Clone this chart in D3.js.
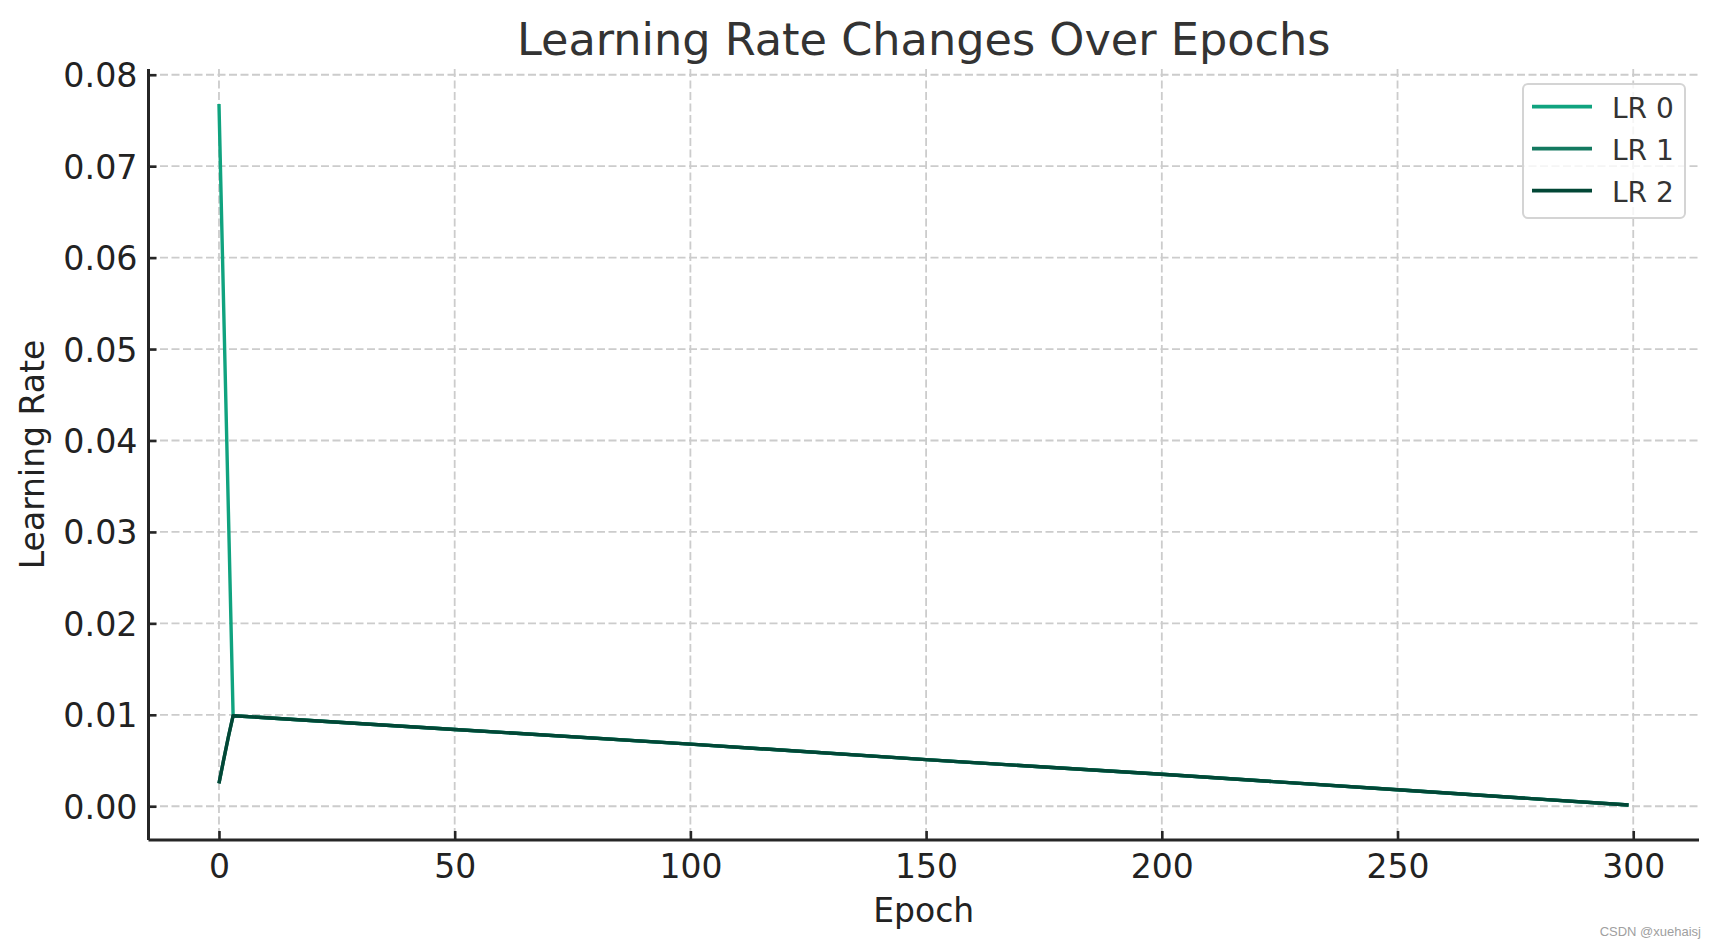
<!DOCTYPE html>
<html>
<head>
<meta charset="utf-8">
<script src="https://cdn.jsdelivr.net/npm/d3@7"></script>
<style>
  html, body { margin: 0; padding: 0; background: #ffffff; }
  svg { display: block; }
</style>
</head>
<body>
<svg id="chart" width="1718" height="947"></svg>
<script>
// ---- data ----
const epochs = [0, 1, 2, 3, 50, 100, 150, 200, 250, 299];
const lr0 = [0.0768, 0.0545, 0.0322, 0.0099, 0.0084, 0.0068, 0.0051, 0.0035, 0.0018, 0.00014];
const lr1 = [0.0025, 0.0051, 0.0076, 0.0099, 0.0084, 0.0068, 0.0051, 0.0035, 0.0018, 0.00014];
const lr2 = [0.0025, 0.0051, 0.0076, 0.0099, 0.0084, 0.0068, 0.0051, 0.0035, 0.0018, 0.00014];
const seriesNames = ["LR 0", "LR 1", "LR 2"];
const seriesColors = ["#10a37f", "#147960", "#024736"];
const xTicks = [0, 50, 100, 150, 200, 250, 300];
const yTicks = [0.00, 0.01, 0.02, 0.03, 0.04, 0.05, 0.06, 0.07, 0.08];
const titleText = "Learning Rate Changes Over Epochs";
const xLabel = "Epoch";
const yLabel = "Learning Rate";
const watermark = "CSDN @xuehaisj";

// ---- layout ----
const L = 148.5, R = 1699, T = 69, B = 840;
const FONT = "'DejaVu Sans', sans-serif";
const svg = d3.select("#chart");

const x = d3.scaleLinear().domain([-14.95, 313.95]).range([L, R]);
const y = d3.scaleLinear().domain([-0.00369, 0.08063]).range([B, T]);

// grid
const grid = svg.append("g");
grid.selectAll("line.gx").data(xTicks).join("line")
  .attr("x1", d => x(d)).attr("x2", d => x(d))
  .attr("y1", T).attr("y2", B)
  .attr("stroke", "#cccccc").attr("stroke-width", 1.8)
  .attr("stroke-dasharray", "8,3.5");
grid.selectAll("line.gy").data(yTicks).join("line")
  .attr("x1", L).attr("x2", R)
  .attr("y1", d => y(d)).attr("y2", d => y(d))
  .attr("stroke", "#cccccc").attr("stroke-width", 1.8)
  .attr("stroke-dasharray", "8,3.5");

// lines
const allSeries = [lr0, lr1, lr2];
const lineGen = d3.line().x((d, i) => x(epochs[i])).y(d => y(d));
svg.append("g").selectAll("path").data(allSeries).join("path")
  .attr("d", d => lineGen(d))
  .attr("fill", "none")
  .attr("stroke", (d, i) => seriesColors[i])
  .attr("stroke-width", 3.4)
  .attr("stroke-linejoin", "round");

// axes
const xAxis = d3.axisBottom(x).tickValues(xTicks).tickSizeInner(-9).tickSizeOuter(0).tickPadding(0).tickFormat(d3.format("d"));
const yAxis = d3.axisLeft(y).tickValues(yTicks).tickSizeInner(-8).tickSizeOuter(0).tickPadding(0).tickFormat(d3.format(".2f"));

const gx = svg.append("g").attr("transform", `translate(0,${B})`).call(xAxis);
gx.select(".domain").attr("stroke", "#262626").attr("stroke-width", 3).attr("d", `M${L},0H${R}`);
gx.selectAll(".tick line").attr("stroke", "#262626").attr("stroke-width", 2.6);
gx.selectAll(".tick text")
  .attr("y", 37.5).attr("dy", null)
  .attr("font-family", FONT).attr("font-size", 33).attr("fill", "#222222");

const gy = svg.append("g").attr("transform", `translate(${L},0)`).call(yAxis);
gy.select(".domain").attr("stroke", "#262626").attr("stroke-width", 3).attr("d", `M0,${T}V${B}`);
gy.selectAll(".tick line").attr("stroke", "#262626").attr("stroke-width", 2.6);
gy.selectAll(".tick text")
  .attr("x", -11).attr("dy", "0.36em")
  .attr("font-family", FONT).attr("font-size", 33.3).attr("fill", "#222222");

// title & labels
svg.append("text").attr("x", (L + R) / 2).attr("y", 55)
  .attr("text-anchor", "middle").attr("font-family", FONT).attr("font-size", 44.6)
  .attr("fill", "#333333").text(titleText);
svg.append("text").attr("x", (L + R) / 2).attr("y", 921.5)
  .attr("text-anchor", "middle").attr("font-family", FONT).attr("font-size", 33)
  .attr("fill", "#222222").text(xLabel);
svg.append("text")
  .attr("transform", `translate(44,${(T + B) / 2}) rotate(-90)`)
  .attr("text-anchor", "middle").attr("font-family", FONT).attr("font-size", 33)
  .attr("fill", "#222222").text(yLabel);

// legend
const lg = svg.append("g");
lg.append("rect").attr("x", 1523).attr("y", 84).attr("width", 162).attr("height", 134)
  .attr("rx", 5).attr("ry", 5)
  .attr("fill", "#ffffff").attr("fill-opacity", 0.8)
  .attr("stroke", "#d4d4d4").attr("stroke-width", 2);
const items = lg.selectAll("g.item").data(seriesNames).join("g")
  .attr("transform", (d, i) => `translate(0,${106.7 + i * 42})`);
items.append("line").attr("x1", 1532).attr("x2", 1592).attr("y1", 0).attr("y2", 0)
  .attr("stroke", (d, i) => seriesColors[i]).attr("stroke-width", 3.8);
items.append("text").attr("x", 1612).attr("y", 11)
  .attr("font-family", FONT).attr("font-size", 28).attr("fill", "#333333")
  .text(d => d);

// watermark
svg.append("text").attr("x", 1701).attr("y", 935.5).attr("text-anchor", "end")
  .attr("font-family", "'Liberation Sans', Arial, sans-serif").attr("font-size", 13)
  .attr("fill", "#a0a0a0").text(watermark);
</script>
</body>
</html>
